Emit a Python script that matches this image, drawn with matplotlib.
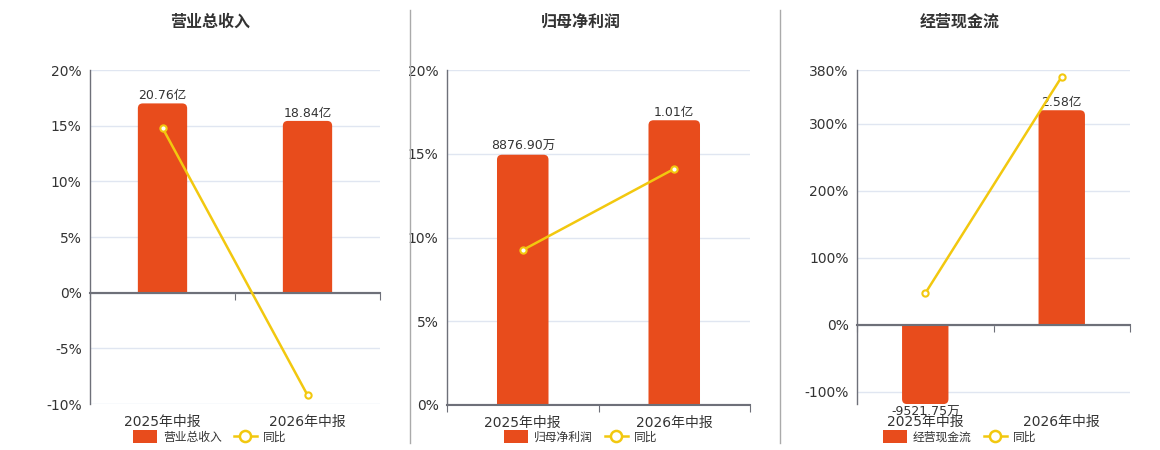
import matplotlib
matplotlib.use('Agg')
import matplotlib.pyplot as plt
from matplotlib.lines import Line2D
from matplotlib.patches import Patch, FancyBboxPatch, Rectangle
import matplotlib.transforms as mtransforms

plt.rcParams['font.family'] = ['DejaVu Sans', 'Noto Sans CJK SC']

# data
categories = ['2025年中报', '2026年中报']
titles = ['营业总收入', '归母净利润', '经营现金流']
bar_values = [[20.76, 18.84], [0.887690, 1.01], [-0.952175, 2.58]]  # 亿
bar_labels = [['20.76亿', '18.84亿'], ['8876.90万', '1.01亿'], ['-9521.75万', '2.58亿']]
yoy = [[14.8, -9.2], [9.25, 14.1], [47.0, 370.0]]  # %
pct_ticks = [[-10, -5, 0, 5, 10, 15, 20], [0, 5, 10, 15, 20], [-100, 0, 100, 200, 300, 380]]
pct_lims = [(-10, 20), (0, 20), (-118, 380)]
bar_scale = [20.76 / 17.0, 1.01 / 17.0, 2.58 / 320.0]

BAR_C = '#e84c1c'
LINE_C = '#f2c80f'
TEXT_C = '#333333'
AXIS_C = '#6e7079'
GRID_C = '#e0e6f1'

# layout in pixels (left, right, top, bottom) and panel centres
W, H = 1160, 450
boxes = [(90, 380, 70, 404), (447, 750, 70, 405), (857, 1130, 70, 404)]
centres = [210, 581, 960]

fig = plt.figure(figsize=(W / 100, H / 100), dpi=100)

for i in range(3):
    l, r, t, b = boxes[i]
    ax = fig.add_axes([l / W, 1 - b / H, (r - l) / W, (b - t) / H])
    ax.set_xlim(-0.5, 1.5)
    ax.set_ylim(*pct_lims[i])
    ax.set_yticks(pct_ticks[i])
    ax.set_yticklabels([f'{v}%' for v in pct_ticks[i]])
    ax.tick_params(axis='y', length=0, labelsize=10, labelcolor=TEXT_C, pad=6)
    ax.grid(axis='y', color=GRID_C, lw=1)
    ax.set_axisbelow(True)
    for s in ['top', 'right']:
        ax.spines[s].set_visible(False)
    ax.spines['left'].set_color(AXIS_C)
    ax.spines['left'].set_linewidth(1)
    ax.spines['bottom'].set_position(('data', 0))
    ax.spines['bottom'].set_color(AXIS_C)
    ax.spines['bottom'].set_linewidth(1.5)
    ax.set_xticks([-0.5, 0.5, 1.5])
    ax.tick_params(axis='x', length=5, color=AXIS_C, labelbottom=False)
    trans = mtransforms.blended_transform_factory(ax.transData, ax.transAxes)
    for j, c in enumerate(categories):
        ax.text(j, -0.034, c, transform=trans, ha='center', va='top',
                fontsize=10, color=TEXT_C)

    # bars on a hidden twin axis, drawn as round-topped boxes
    axb = ax.twinx()
    k = bar_scale[i]
    y0, y1 = pct_lims[i][0] * k, pct_lims[i][1] * k
    axb.set_ylim(y0, y1)
    axb.axis('off')
    bars = axb.bar(range(2), bar_values[i], width=0.34, color=BAR_C, alpha=0)
    fig.canvas.draw()
    px_x = (axb.transData.transform((1, 0))[0] - axb.transData.transform((0, 0))[0])
    px_y = (axb.transData.transform((0, 1))[1] - axb.transData.transform((0, 0))[1])
    rad = 5 / px_x
    ext = 20 / px_y
    for rect in bars:
        x0, w, h = rect.get_x(), rect.get_width(), rect.get_height()
        if h >= 0:
            fb = FancyBboxPatch((x0, -ext), w, h + ext,
                                boxstyle=f'round,pad=0,rounding_size={rad}',
                                mutation_aspect=px_x / px_y,
                                fc=BAR_C, ec='none')
            clip = Rectangle((x0 - 0.1, 0), w + 0.2, y1, transform=axb.transData)
        else:
            fb = FancyBboxPatch((x0, h), w, -h + ext,
                                boxstyle=f'round,pad=0,rounding_size={rad}',
                                mutation_aspect=px_x / px_y,
                                fc=BAR_C, ec='none')
            clip = Rectangle((x0 - 0.1, y0), w + 0.2, -y0, transform=axb.transData)
        axb.add_patch(fb)
        fb.set_clip_path(clip)
    axb.bar_label(bars, labels=bar_labels[i], padding=1, fontsize=9, color=TEXT_C)

    # line on top
    axl = ax.twinx()
    axl.set_ylim(*pct_lims[i])
    axl.axis('off')
    axl.axhline(0, color=AXIS_C, lw=1.5)
    axl.plot(range(2), yoy[i], color=LINE_C, lw=1.8, marker='o', ms=4.5,
             mfc='white', mec=LINE_C, mew=1.5)

    fig.text(centres[i] / W, 1 - 22 / H, titles[i], ha='center', va='center',
             fontsize=11.5, fontweight='bold', color=TEXT_C)

    handles = [Patch(fc=BAR_C, ec='none'),
               Line2D([], [], color=LINE_C, lw=1.8, marker='o', ms=8,
                      mfc='white', mec=LINE_C, mew=1.8)]
    fig.legend(handles, [titles[i], '同比'], loc='center',
               bbox_to_anchor=(centres[i] / W, 1 - 437 / H), ncol=2,
               frameon=False, fontsize=8.5, labelcolor=TEXT_C,
               handlelength=2.0, handleheight=1.2, handletextpad=0.5,
               columnspacing=1.0)

# panel separators
for xs in [410, 780]:
    fig.add_artist(Line2D([xs / W, xs / W], [1 - 443 / H, 1 - 10 / H],
                          color='#aaaaaa', lw=1))

fig.savefig('out.png', dpi=100)
